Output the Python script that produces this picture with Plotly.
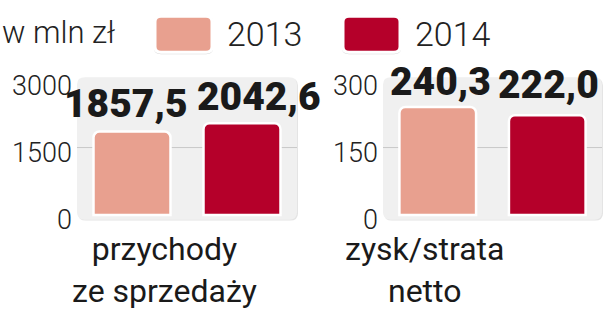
import plotly.graph_objects as go

# ---- data ----
years = ["2013", "2014"]
metric_left = "przychody<br>ze sprzedaży"
metric_right = "zysk/strata<br>netto"
metrics = [metric_left, metric_right]
values_2013 = [1857.5, 240.3]
values_2014 = [2042.6, 222.0]
labels_2013 = ["1857,5", "240,3"]
labels_2014 = ["2042,6", "222,0"]
ticks_left = [0, 1500, 3000]
ticks_right = [0, 150, 300]
unit_label = "w mln zł"

year_values = {"2013": values_2013, "2014": values_2014}
year_labels = {"2013": labels_2013, "2014": labels_2014}

# ---- style ----
colors = {"2013": "#E8A08F", "2014": "#B5002A"}
label_xshift = {"2013": [-61, -52], "2014": [72, 56]}
label_yshift = {"2013": [2, 0], "2014": [1, 5]}

W, H = 604, 317
LIGHT = "Roboto"
BOLD = "Roboto"

def px_x(v):
    return v / W

def px_y(v):
    return 1 - v / H

left_px = (77, 297)
right_px = (383, 602)
top_px, bot_px = 75, 229

fig = go.Figure()
panels = [("x", "y"), ("x2", "y2")]
annotations = []
for j, (xa, ya) in enumerate(panels):
    for yr in years:
        fig.add_trace(go.Bar(
            x=[metrics[j]], y=[year_values[yr][j]], name=yr,
            xaxis=xa, yaxis=ya, offsetgroup=yr,
            marker=dict(color=colors[yr], cornerradius=6,
                        line=dict(color="white", width=2.5)),
            showlegend=False, hoverinfo="skip",
        ))
        annotations.append(dict(
            x=metrics[j], y=year_values[yr][j], xref=xa, yref=ya,
            text=year_labels[yr][j], showarrow=False, yanchor="bottom",
            xshift=label_xshift[yr][j], yshift=label_yshift[yr][j],
            font=dict(family=BOLD, size=39, color="#1a1a1a", weight=900),
        ))

def rrect(x0, y0, x1, y1, r):
    rx, ry = r / W, r / H
    X0, X1 = px_x(x0), px_x(x1)
    Y0, Y1 = px_y(y1), px_y(y0)
    return (f"M {X0+rx},{Y0} L {X1-rx},{Y0} Q {X1},{Y0} {X1},{Y0+ry} "
            f"L {X1},{Y1-ry} Q {X1},{Y1} {X1-rx},{Y1} L {X0+rx},{Y1} "
            f"Q {X0},{Y1} {X0},{Y1-ry} L {X0},{Y0+ry} Q {X0},{Y0} {X0+rx},{Y0} Z")

shapes = []
for (a, b) in (left_px, right_px):
    shapes.append(dict(type="path", path=rrect(a + 1, top_px + 1, b + 1, bot_px + 1, 8),
                       xref="paper", yref="paper", fillcolor="#E4E4E4",
                       line=dict(width=0), layer="below"))
    shapes.append(dict(type="path", path=rrect(a, top_px, b, bot_px, 8),
                       xref="paper", yref="paper", fillcolor="#F0F0F0",
                       line=dict(width=0), layer="below"))
shapes.append(dict(type="line", xref="x domain", yref="y", x0=0, x1=1,
                   y0=ticks_left[1], y1=ticks_left[1],
                   line=dict(color="#C8C8C8", width=1), layer="below"))
shapes.append(dict(type="line", xref="x2 domain", yref="y2", x0=0, x1=1,
                   y0=ticks_right[1], y1=ticks_right[1],
                   line=dict(color="#C8C8C8", width=1), layer="below"))

leg_boxes = {"2013": (155, 212), "2014": (343, 400)}
leg_text_x = {"2013": 225, "2014": 413}
for yr in years:
    a, b = leg_boxes[yr]
    shapes.append(dict(type="path", path=rrect(a - 1, 8, b + 1, 50, 7),
                       xref="paper", yref="paper", fillcolor="#D8D8D8",
                       line=dict(width=0)))
    shapes.append(dict(type="path", path=rrect(a, 9, b, 48, 6),
                       xref="paper", yref="paper", fillcolor=colors[yr],
                       line=dict(color="white", width=3)))
    annotations.append(dict(x=px_x(leg_text_x[yr]), y=px_y(28), xref="paper", yref="paper",
                            text=yr, showarrow=False, xanchor="left", yanchor="middle",
                            font=dict(family=LIGHT, size=34, color="#222", weight=300)))
annotations.append(dict(x=0, y=px_y(27), xref="paper", yref="paper", text=unit_label,
                        showarrow=False, xanchor="left", yanchor="middle",
                        font=dict(family=LIGHT, size=31, color="#222", weight=300)))
for metric, cx in ((metric_left, 164), (metric_right, 424)):
    annotations.append(dict(x=px_x(cx), y=px_y(238), xref="paper", yref="paper",
                            text=metric, showarrow=False, xanchor="center", yanchor="top",
                            font=dict(family=LIGHT, size=32, color="#1a1a1a", weight=400)))

ydom = [px_y(bot_px), px_y(top_px)]
lrange = [-103, 3062]
rrange = [-10.3, 306.2]
common_y = dict(showgrid=False, zeroline=False, showline=False, ticks="",
                tickfont=dict(family=LIGHT, size=27, color="#222", weight=300),
                ticklabelstandoff=4, ticklabelshift=5)
common_x = dict(showticklabels=False, showgrid=False, zeroline=False,
                fixedrange=True, type="category", range=[-0.5, 0.5], autorange=False)
fig.update_layout(
    width=W, height=H, margin=dict(l=0, r=0, t=0, b=0),
    paper_bgcolor="white", plot_bgcolor="rgba(0,0,0,0)",
    barmode="group", bargap=0, bargroupgap=0.3,
    xaxis=dict(domain=[px_x(left_px[0]), px_x(left_px[1])], **common_x),
    xaxis2=dict(domain=[px_x(right_px[0]), px_x(right_px[1])], **common_x),
    yaxis=dict(domain=ydom, range=lrange, tickvals=ticks_left,
               ticktext=[str(t) for t in ticks_left], anchor="x", **common_y),
    yaxis2=dict(domain=ydom, range=rrange, tickvals=ticks_right,
                ticktext=[str(t) for t in ticks_right], anchor="x2", **common_y),
    shapes=shapes, annotations=annotations, showlegend=False,
)
fig.write_html("out.html")
